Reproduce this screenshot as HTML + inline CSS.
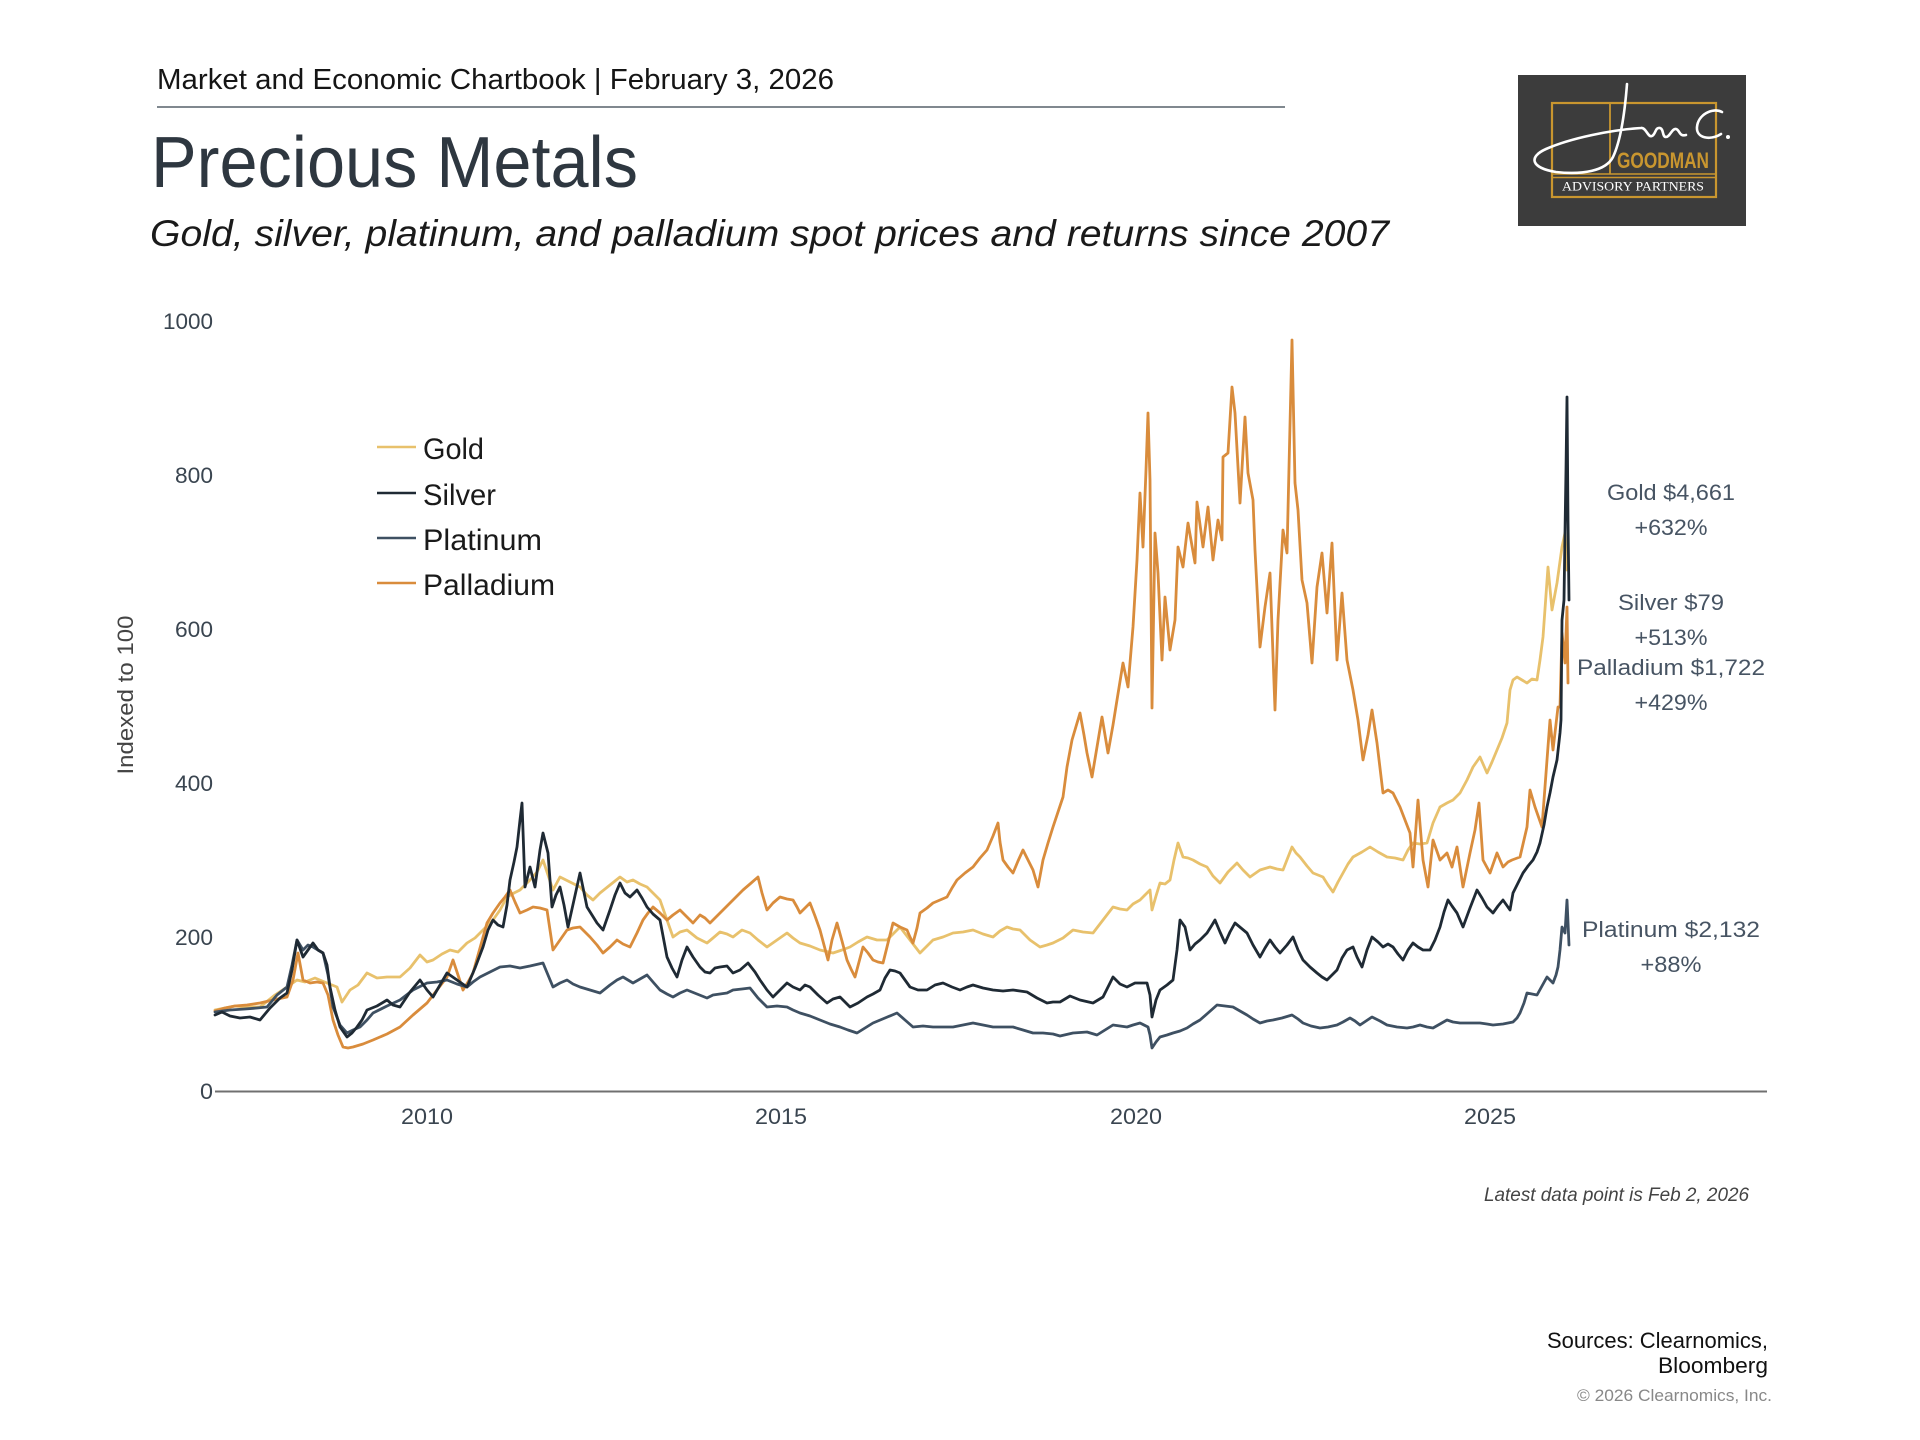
<!DOCTYPE html>
<html>
<head>
<meta charset="utf-8">
<style>
  html,body{margin:0;padding:0;background:#fff;}
  svg{display:block;}
  text{font-family:"Liberation Sans", Arial, sans-serif;}
</style>
</head>
<body>
<svg width="1920" height="1440" viewBox="0 0 1920 1440" xmlns="http://www.w3.org/2000/svg">
  <rect x="0" y="0" width="1920" height="1440" fill="#ffffff"/>

  <!-- Header -->
  <text x="157" y="89" font-size="29" fill="#151515" textLength="677" lengthAdjust="spacingAndGlyphs">Market and Economic Chartbook | February 3, 2026</text>
  <line x1="157" y1="107" x2="1285" y2="107" stroke="#56606a" stroke-width="1.6"/>
  <text x="151" y="187" font-size="72" fill="#2e3740" textLength="487" lengthAdjust="spacingAndGlyphs">Precious Metals</text>
  <text x="150" y="246" font-size="37" font-style="italic" fill="#1a1a1a" textLength="1239" lengthAdjust="spacingAndGlyphs">Gold, silver, platinum, and palladium spot prices and returns since 2007</text>

  <!-- Logo -->
  <rect x="1518" y="75" width="228" height="151" fill="#3c3c3c"/>
  <rect x="1552" y="103" width="164" height="94" fill="none" stroke="#c9962f" stroke-width="2.2"/>
  <line x1="1552" y1="174" x2="1716" y2="174" stroke="#c9962f" stroke-width="1.6"/>
  <line x1="1552" y1="177.5" x2="1716" y2="177.5" stroke="#c9962f" stroke-width="1.6"/>
  <line x1="1610" y1="103" x2="1610" y2="174" stroke="#c9962f" stroke-width="1.8"/>
  <text x="1617" y="168" font-size="22" font-weight="bold" fill="#c9962f" textLength="92" lengthAdjust="spacingAndGlyphs">GOODMAN</text>
  <text x="1562" y="190.5" font-size="12.5" fill="#ffffff" style="font-family:'Liberation Serif',serif" textLength="142" lengthAdjust="spacingAndGlyphs">ADVISORY PARTNERS</text>
  <path d="M1627,84 C1625,110 1621,140 1613,157 C1606,171 1582,175 1556,172 C1531,168 1528,157 1546,149 C1571,138 1611,130 1641,128 C1646,127 1648,138 1652,136 C1656,134 1655,127 1660,128 C1664,129 1662,137 1666,137 C1670,137 1672,128 1676,129 C1680,130 1679,137 1686,135" fill="none" stroke="#ffffff" stroke-width="2.6" stroke-linecap="round" stroke-linejoin="round"/>
  <path d="M1722,112 C1712,107 1698,115 1697,127 C1696,138 1710,141 1721,134" fill="none" stroke="#ffffff" stroke-width="2.6" stroke-linecap="round"/>
  <circle cx="1728" cy="137" r="2" fill="#ffffff"/>

  <!-- Y axis label -->
  <text transform="translate(133,695) rotate(-90)" x="0" y="0" font-size="22" fill="#444" text-anchor="middle" textLength="159" lengthAdjust="spacingAndGlyphs">Indexed to 100</text>

  <!-- Y ticks -->
  <g font-size="22" fill="#3a4550" text-anchor="end">
    <text x="213" y="329" textLength="50" lengthAdjust="spacingAndGlyphs">1000</text>
    <text x="213" y="483" textLength="38" lengthAdjust="spacingAndGlyphs">800</text>
    <text x="213" y="637" textLength="38" lengthAdjust="spacingAndGlyphs">600</text>
    <text x="213" y="791" textLength="38" lengthAdjust="spacingAndGlyphs">400</text>
    <text x="213" y="945" textLength="38" lengthAdjust="spacingAndGlyphs">200</text>
    <text x="213" y="1099" textLength="13" lengthAdjust="spacingAndGlyphs">0</text>
  </g>

  <!-- X axis -->
  <line x1="215" y1="1091.5" x2="1767" y2="1091.5" stroke="#707070" stroke-width="2"/>
  <g font-size="22" fill="#3a4550" text-anchor="middle">
    <text x="427" y="1124" textLength="52" lengthAdjust="spacingAndGlyphs">2010</text>
    <text x="781" y="1124" textLength="52" lengthAdjust="spacingAndGlyphs">2015</text>
    <text x="1136" y="1124" textLength="52" lengthAdjust="spacingAndGlyphs">2020</text>
    <text x="1490" y="1124" textLength="52" lengthAdjust="spacingAndGlyphs">2025</text>
  </g>

  <!-- Series -->
  <g fill="none" stroke-width="2.8" stroke-linejoin="round" stroke-linecap="round">
    <!-- Gold -->
    <polyline stroke="#e8c16c" points="215,1010 225,1008 235,1006 245,1007 260,1007 275,995 287,987 297,980 305,982 315,978 327,983 337,987 342,1002 350,990 358,985 367,973 377,978 387,977 400,977 410,968 420,955 427,962 433,960 442,954 450,950 458,952 467,943 475,938 483,930 493,920 500,910 507,897 514,893 520,890 530,880 537,872 543,860 548,875 553,890 560,877 570,882 580,887 587,895 593,900 600,893 610,885 620,877 627,882 633,880 640,884 647,887 653,893 660,900 667,920 673,937 680,932 687,930 697,938 707,943 713,938 720,932 727,934 733,937 742,930 750,933 758,940 767,947 777,940 787,933 793,938 800,943 810,946 820,950 833,953 842,950 850,947 858,942 867,937 877,940 887,940 893,934 900,927 910,940 920,953 927,946 933,940 943,937 953,933 963,932 973,930 983,934 993,937 1000,931 1007,927 1013,929 1020,930 1030,940 1040,947 1047,945 1053,943 1063,938 1073,930 1083,932 1093,933 1103,920 1113,907 1120,909 1127,910 1133,904 1140,900 1147,893 1150,890 1152,910 1156,896 1160,883 1165,884 1170,880 1174,860 1178,843 1183,857 1188,858 1193,860 1200,864 1207,867 1213,876 1220,883 1228,872 1237,863 1243,870 1250,877 1260,870 1270,867 1277,869 1283,870 1292,847 1296,853 1300,857 1307,866 1313,873 1318,875 1323,877 1328,885 1333,892 1338,882 1343,873 1348,864 1353,857 1362,852 1370,847 1378,852 1387,857 1395,858 1403,860 1408,850 1413,843 1420,844 1427,843 1433,823 1440,807 1447,803 1453,800 1460,793 1467,780 1473,767 1480,757 1487,773 1492,762 1497,750 1502,738 1507,723 1510,690 1513,680 1517,677 1522,680 1527,683 1532,679 1537,680 1540,660 1543,637 1548,567 1552,610 1557,583 1562,547 1565,533 1567,570 1568,560"/>
    <!-- Palladium -->
    <polyline stroke="#d98c3c" points="215,1011 225,1008 235,1006 247,1005 260,1003 273,1000 287,997 293,980 298,953 303,980 310,983 317,982 323,983 328,995 333,1020 338,1035 343,1047 348,1048 353,1047 363,1044 373,1040 387,1034 400,1027 413,1015 427,1003 437,990 447,977 453,960 458,975 463,990 468,982 473,973 480,948 487,923 493,913 500,903 505,897 510,890 515,902 520,913 527,910 533,907 540,908 547,910 550,930 553,950 560,940 567,930 573,928 580,927 585,932 590,937 597,945 603,953 610,947 617,940 623,944 630,947 637,933 643,920 648,913 653,907 660,913 667,920 673,915 680,910 687,917 693,923 700,915 705,918 710,923 715,918 720,913 727,906 733,900 738,895 743,890 750,884 758,877 762,893 767,910 773,903 780,897 787,899 793,900 797,907 800,913 805,908 810,903 815,916 820,930 824,945 828,960 832,940 837,923 842,941 847,960 851,969 855,977 859,962 863,947 868,953 873,960 878,962 883,963 888,943 893,923 900,927 907,930 910,937 913,943 917,928 920,913 927,908 933,903 940,900 947,897 952,888 957,880 965,873 973,867 980,858 987,850 993,836 998,823 1000,842 1003,860 1008,867 1013,873 1018,861 1023,850 1028,860 1033,870 1038,887 1043,860 1048,843 1053,827 1058,812 1063,797 1067,767 1072,740 1080,713 1084,735 1087,753 1092,777 1097,747 1102,717 1105,735 1108,753 1113,725 1117,700 1123,663 1128,687 1133,627 1137,560 1140,493 1143,547 1146,470 1148,413 1150,480 1152,708 1155,533 1158,573 1162,660 1165,597 1170,650 1175,620 1178,547 1183,567 1188,523 1195,563 1197,502 1203,547 1208,507 1213,560 1218,520 1222,540 1223,457 1228,453 1232,387 1235,413 1240,503 1245,417 1248,473 1253,500 1255,550 1260,647 1265,607 1270,573 1275,710 1278,620 1283,530 1287,553 1292,340 1295,483 1298,510 1302,580 1307,603 1312,663 1317,587 1322,553 1327,613 1332,543 1337,660 1342,593 1347,660 1353,690 1358,720 1363,760 1368,735 1372,710 1377,743 1383,793 1388,790 1393,793 1400,807 1405,820 1410,833 1413,867 1418,800 1423,860 1428,887 1433,840 1440,860 1447,853 1452,867 1457,847 1463,887 1470,853 1475,830 1479,803 1483,860 1490,873 1497,853 1503,867 1508,862 1512,860 1520,857 1527,827 1530,790 1535,807 1542,827 1547,760 1550,720 1553,750 1558,707 1560,707 1562,633 1565,663 1567,607 1568,683"/>
    <!-- Platinum -->
    <polyline stroke="#3e5062" points="215,1012 230,1010 245,1009 257,1008 267,1007 277,995 287,987 292,965 297,940 303,950 308,945 313,947 318,950 323,953 328,975 333,1007 340,1025 347,1033 353,1030 360,1027 367,1020 373,1013 387,1006 400,1000 413,990 427,983 437,982 447,980 457,984 467,987 473,982 480,977 490,972 500,967 510,966 520,968 530,966 543,963 548,975 553,987 560,983 567,980 573,984 580,987 590,990 600,993 610,985 617,980 623,977 628,980 633,983 640,979 647,975 653,982 660,990 667,994 673,997 680,993 687,990 697,994 707,998 713,995 720,994 727,993 733,990 742,989 750,988 758,998 767,1007 777,1006 787,1007 793,1010 800,1013 810,1016 820,1020 830,1024 840,1027 848,1030 857,1033 865,1028 873,1023 885,1018 897,1013 905,1020 913,1027 923,1026 933,1027 943,1027 953,1027 963,1025 973,1023 983,1025 993,1027 1003,1027 1013,1027 1023,1030 1033,1033 1043,1033 1053,1034 1060,1036 1073,1033 1087,1032 1097,1035 1105,1030 1113,1025 1120,1026 1127,1027 1133,1025 1140,1023 1148,1027 1150,1035 1152,1048 1156,1042 1160,1037 1167,1035 1173,1033 1180,1031 1187,1028 1193,1024 1200,1020 1208,1013 1217,1005 1225,1006 1233,1007 1240,1011 1247,1015 1253,1019 1260,1023 1267,1021 1273,1020 1282,1018 1292,1015 1298,1019 1303,1023 1311,1026 1320,1028 1328,1027 1337,1025 1343,1022 1350,1018 1355,1021 1360,1025 1366,1021 1372,1017 1380,1021 1387,1025 1397,1027 1407,1028 1413,1027 1420,1025 1427,1027 1433,1028 1440,1024 1447,1020 1453,1022 1460,1023 1470,1023 1480,1023 1487,1024 1493,1025 1503,1024 1513,1022 1517,1018 1520,1013 1524,1003 1527,993 1532,994 1537,995 1542,986 1547,977 1550,980 1553,983 1556,975 1558,967 1560,950 1562,927 1565,933 1567,900 1569,945"/>
    <!-- Silver -->
    <polyline stroke="#1f2a34" points="215,1015 222,1012 230,1016 240,1018 250,1017 260,1020 270,1008 280,998 287,993 292,970 297,940 303,957 308,950 313,943 318,950 323,953 327,965 330,987 335,1010 340,1027 347,1037 352,1033 357,1027 362,1020 367,1010 377,1006 387,1000 393,1005 400,1007 410,992 420,980 427,990 433,997 440,985 447,973 457,980 467,987 475,968 483,947 488,930 493,920 498,925 503,927 507,905 510,880 514,862 517,847 520,820 522,803 525,887 530,867 535,887 540,850 543,833 548,853 552,907 556,895 560,887 564,905 568,927 574,900 580,873 587,907 592,915 597,923 603,930 610,910 615,895 620,883 625,893 630,897 637,890 642,898 647,907 653,914 660,920 667,957 672,968 677,977 682,960 687,947 693,957 700,967 705,972 710,973 715,968 720,967 727,966 733,973 740,970 748,963 755,972 760,980 767,990 773,997 780,990 787,983 793,987 800,990 805,985 810,987 818,995 827,1003 833,999 840,997 845,1002 850,1007 858,1003 867,997 873,994 880,990 885,978 890,970 895,971 900,973 905,980 910,987 918,990 927,990 935,985 943,983 952,987 960,990 967,987 973,985 983,988 993,990 1003,991 1013,990 1020,991 1027,992 1037,998 1047,1003 1053,1002 1060,1002 1070,996 1080,1000 1093,1003 1103,997 1113,977 1120,984 1127,987 1135,983 1140,983 1147,983 1150,995 1152,1017 1156,1000 1160,990 1167,985 1173,980 1177,950 1180,920 1185,927 1190,950 1195,944 1200,940 1207,933 1212,925 1215,920 1220,932 1225,943 1230,932 1235,923 1241,928 1247,933 1253,945 1260,957 1265,948 1270,940 1275,947 1280,953 1287,945 1293,937 1298,950 1303,960 1310,967 1317,973 1322,977 1327,980 1332,975 1337,970 1342,958 1347,950 1353,947 1357,957 1362,967 1367,950 1372,937 1378,942 1383,947 1388,944 1393,947 1398,954 1403,960 1408,950 1413,943 1418,947 1423,950 1430,950 1435,940 1440,927 1444,912 1448,900 1452,906 1457,913 1463,927 1470,908 1477,890 1482,898 1487,907 1493,913 1498,906 1503,900 1510,910 1513,893 1518,883 1523,873 1528,866 1533,860 1537,852 1540,843 1544,825 1547,807 1550,793 1553,777 1557,760 1560,733 1561,720 1562,620 1564,600 1565,533 1566,470 1567,397 1568,520 1569,600"/>
  </g>

  <!-- Legend -->
  <g stroke-width="2.6">
    <line x1="377" y1="447" x2="416" y2="447" stroke="#e8c16c"/>
    <line x1="377" y1="493" x2="416" y2="493" stroke="#1f2a34"/>
    <line x1="377" y1="538" x2="416" y2="538" stroke="#3e5062"/>
    <line x1="377" y1="583" x2="416" y2="583" stroke="#d98c3c"/>
  </g>
  <g font-size="30" fill="#1a1a1a">
    <text x="423" y="459" textLength="61" lengthAdjust="spacingAndGlyphs">Gold</text>
    <text x="423" y="505" textLength="73" lengthAdjust="spacingAndGlyphs">Silver</text>
    <text x="423" y="550" textLength="119" lengthAdjust="spacingAndGlyphs">Platinum</text>
    <text x="423" y="595" textLength="132" lengthAdjust="spacingAndGlyphs">Palladium</text>
  </g>

  <!-- Right annotations -->
  <g font-size="22" fill="#475463" text-anchor="middle">
    <text x="1671" y="500" textLength="128" lengthAdjust="spacingAndGlyphs">Gold $4,661</text>
    <text x="1671" y="535" textLength="73" lengthAdjust="spacingAndGlyphs">+632%</text>
    <text x="1671" y="610" textLength="106" lengthAdjust="spacingAndGlyphs">Silver $79</text>
    <text x="1671" y="645" textLength="73" lengthAdjust="spacingAndGlyphs">+513%</text>
    <text x="1671" y="675" textLength="188" lengthAdjust="spacingAndGlyphs">Palladium $1,722</text>
    <text x="1671" y="710" textLength="73" lengthAdjust="spacingAndGlyphs">+429%</text>
    <text x="1671" y="937" textLength="178" lengthAdjust="spacingAndGlyphs">Platinum $2,132</text>
    <text x="1671" y="972" textLength="61" lengthAdjust="spacingAndGlyphs">+88%</text>
  </g>

  <!-- Footer notes -->
  <text x="1484" y="1201" font-size="19" font-style="italic" fill="#444" textLength="265" lengthAdjust="spacingAndGlyphs">Latest data point is Feb 2, 2026</text>
  <text x="1768" y="1348" font-size="22" fill="#111" text-anchor="end" textLength="221" lengthAdjust="spacingAndGlyphs">Sources: Clearnomics,</text>
  <text x="1768" y="1373" font-size="22" fill="#111" text-anchor="end" textLength="110" lengthAdjust="spacingAndGlyphs">Bloomberg</text>
  <text x="1772" y="1401" font-size="17" fill="#888" text-anchor="end" textLength="195" lengthAdjust="spacingAndGlyphs">© 2026 Clearnomics, Inc.</text>
</svg>
</body>
</html>
